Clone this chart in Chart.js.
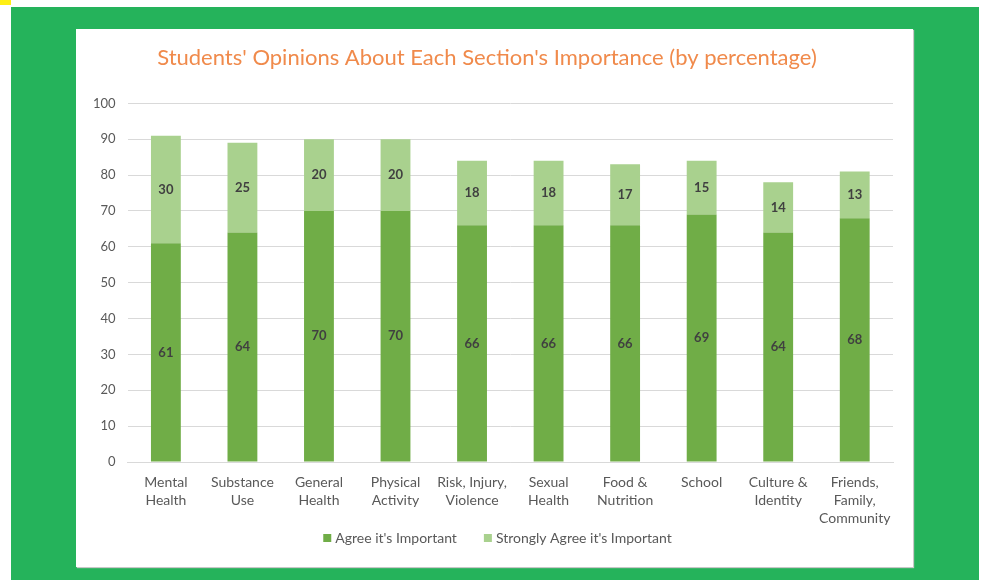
<!DOCTYPE html>
<html>
<head>
<meta charset="utf-8">
<script src="https://cdn.jsdelivr.net/npm/chart.js@4.4.0/dist/chart.umd.min.js"></script>
<style>
  body { margin: 0; background: #fff; width: 986px; height: 580px; position: relative; overflow: hidden; }
  #mark { position: absolute; left: 0; top: 0; width: 11px; height: 5px; background: #ffef14; }
  #green { position: absolute; left: 11px; top: 7px; width: 968px; height: 573px; background: #25b35b; }
  #panel { position: absolute; left: 76px; top: 29px; width: 837px; height: 538px; background: #fff;
           box-shadow: 1px 1px 1px #c8c8c8; }
  #panel canvas { position: absolute; left: 0; top: 0; }
</style>
</head>
<body>
<div id="mark"></div>
<div id="green"></div>
<div id="panel"><canvas id="chart" width="837" height="538"></canvas></div>
<script>
/* --------------- Data --------------- */

const categories = [
  ["Mental", "Health"], ["Substance", "Use"], ["General", "Health"], ["Physical", "Activity"],
  ["Risk, Injury,", "Violence"], ["Sexual", "Health"], ["Food &", "Nutrition"], ["School"],
  ["Culture &", "Identity"], ["Friends,", "Family,", "Community"]
];
const agree = [61, 64, 70, 70, 66, 66, 66, 69, 64, 68];
const stronglyAgree = [30, 25, 20, 20, 18, 18, 17, 15, 14, 13];
const seriesNames = ["Agree it's Important", "Strongly Agree it's Important"];

/* --------------- Colors --------------- */

const darkGreen = "#70ad47";
const lightGreen = "#a9d18e";
const textGray = "#595959";

/* --------------- Value labels inside bars --------------- */

const barLabels = {
  id: "barLabels",
  afterDatasetsDraw(chart) {
    const ctx = chart.ctx;
    ctx.save();
    ctx.font = "bold 13px Lato";
    ctx.fillStyle = "#404040";
    ctx.textAlign = "center";
    ctx.textBaseline = "middle";
    chart.data.datasets.forEach((ds, i) => {
      chart.getDatasetMeta(i).data.forEach((bar, j) => {
        const mid = (bar.y + bar.base) / 2;
        ctx.fillText(ds.data[j], bar.x, mid);
      });
    });
    ctx.restore();
  }
};

/* --------------- Legend (drawn by hand so spacing matches) --------------- */

const bottomLegend = {
  id: "bottomLegend",
  afterDraw(chart) {
    const ctx = chart.ctx;
    const box = 8, gap = 4, spacing = 27;
    const y = 509;
    ctx.save();
    ctx.font = "14px Lato";
    ctx.textBaseline = "middle";
    const items = chart.data.datasets.map(ds => ({ text: ds.label, color: ds.backgroundColor, w: ctx.measureText(ds.label).width }));
    let total = items.reduce((s, it) => s + box + gap + it.w, 0) + spacing * (items.length - 1);
    let x = chart.width / 2 - total / 2 + 3;
    items.forEach(it => {
      ctx.fillStyle = it.color;
      ctx.fillRect(x, y - box / 2, box, box);
      ctx.fillStyle = textGray;
      ctx.fillText(it.text, x + box + gap, y);
      x += box + gap + it.w + spacing;
    });
    ctx.restore();
  }
};

/* --------------- Chart --------------- */

new Chart(document.getElementById("chart"), {
  type: "bar",
  plugins: [barLabels, bottomLegend],
  data: {
    labels: categories,
    datasets: [
      { label: seriesNames[0], data: agree, backgroundColor: darkGreen },
      { label: seriesNames[1], data: stronglyAgree, backgroundColor: lightGreen }
    ]
  },
  options: {
    responsive: false,
    animation: false,
    devicePixelRatio: 1,
    datasets: { bar: { categoryPercentage: 1, barPercentage: 0.39 } },
    layout: { padding: { left: 5, right: 20, top: 16, bottom: 38 } },
    scales: {
      x: {
        stacked: true,
        grid: { display: false },
        border: { color: "#d9d9d9" },
        ticks: { color: textGray, font: { family: "Lato", size: 14, lineHeight: 1.3 }, maxRotation: 0, autoSkip: false, padding: 3 },
        afterFit: (scale) => { scale.height = 67; }
      },
      y: {
        stacked: true,
        min: 0, max: 100,
        ticks: { stepSize: 10, color: textGray, font: { family: "Lato", size: 13 }, padding: 12 },
        grid: { color: "#d9d9d9", drawTicks: false },
        border: { display: false }
      }
    },
    plugins: {
      tooltip: { enabled: false },
      title: {
        display: true,
        text: "Students' Opinions About Each Section's Importance (by percentage)",
        color: "#f08a4b",
        font: { family: "Lato", size: 22, weight: "normal" },
        padding: { top: 0, bottom: 32 }
      },
      legend: { display: false }
    }
  }
});
</script>
</body>
</html>
